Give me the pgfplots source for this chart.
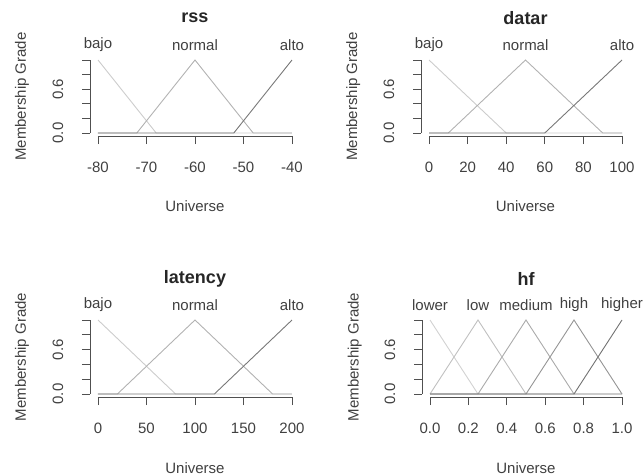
\documentclass[border=0pt]{standalone}
\usepackage{fontspec}
\setmainfont{Liberation Sans}
\usepackage{pgfplots}
\pgfplotsset{compat=1.18}
\definecolor{txt}{HTML}{404040}
\definecolor{axc}{HTML}{505050}
\definecolor{cA}{HTML}{CCCCCC}
\definecolor{cB}{HTML}{B2B2B2}
\definecolor{cC}{HTML}{787878}
\definecolor{hA}{HTML}{D2D2D2}
\definecolor{hB}{HTML}{C0C0C0}
\definecolor{hC}{HTML}{ABABAB}
\definecolor{hD}{HTML}{959595}
\definecolor{hE}{HTML}{727272}
\newcommand{\fs}{\fontsize{15}{18}\selectfont}
\pgfplotsset{
  rstyle/.style={
    scale only axis, clip=false,
    axis x line=bottom, axis y line=left,
    axis x line shift=3pt, axis y line shift=8pt,
    axis line style={-, color=axc, line width=0.8pt},
    tick style={color=axc, line width=0.8pt},
    tick align=outside, major tick length=8pt,
    ymin=0, ymax=1,
    ytick={0,0.2,0.4,0.6,0.8,1},
    yticklabels={0.0,{},{},0.6,{},{}},
    ticklabel style={font=\fs, text=txt},
    xticklabel style={anchor=center, yshift=-23pt},
    yticklabel style={xshift=-24pt, rotate=90, anchor=center},
    label style={font=\fs, text=txt},
    xlabel={Universe}, ylabel={Membership Grade},
    xlabel style={at={(axis description cs:0.5,-1.0)}, anchor=center},
    ylabel style={at={(axis description cs:-0.392,0.5)}, anchor=center},
    every axis plot/.append style={line width=0.9pt, mark=none},
  },
}
\tikzset{
  lab/.style={font=\fs, text=txt, anchor=center},
  ttl/.style={font=\fontsize{18}{21}\selectfont\bfseries, text=black!85, anchor=center},
}
\begin{document}
\begin{tikzpicture}
\useasboundingbox (0,0) rectangle (643pt,475pt);
% rss
\begin{axis}[rstyle, at={(98pt,342pt)}, anchor=south west, width=194pt, height=73pt,
  xmin=-80, xmax=-40, xtick={-80,-70,-60,-50,-40}, xticklabels={-80,-70,-60,-50,-40}]
\addplot[cA] coordinates {(-80,1) (-68,0) (-40,0)};
\addplot[cB] coordinates {(-80,0) (-72,0) (-60,1) (-48,0) (-40,0)};
\addplot[cC] coordinates {(-80,0) (-52,0) (-40,1)};
\node[lab] at (axis cs:-80,1.205) {bajo};
\node[lab] at (axis cs:-60,1.205) {normal};
\node[lab] at (axis cs:-40,1.205) {alto};
\node[ttl] at (axis description cs:0.5,1.575) {rss};
\end{axis}
% datar
\begin{axis}[rstyle, at={(429pt,342pt)}, anchor=south west, width=193pt, height=73pt,
  xmin=0, xmax=100, xtick={0,20,40,60,80,100}, xticklabels={0,20,40,60,80,100}]
\addplot[cA] coordinates {(0,1) (40,0) (100,0)};
\addplot[cB] coordinates {(0,0) (10,0) (50,1) (90,0) (100,0)};
\addplot[cC] coordinates {(0,0) (60,0) (100,1)};
\node[lab] at (axis cs:0,1.205) {bajo};
\node[lab] at (axis cs:50,1.205) {normal};
\node[lab] at (axis cs:100,1.205) {alto};
\node[ttl] at (axis description cs:0.5,1.575) {datar};
\end{axis}
% latency
\begin{axis}[rstyle, at={(98pt,81pt)}, anchor=south west, width=194pt, height=74pt,
  xmin=0, xmax=200, xtick={0,50,100,150,200}, xticklabels={0,50,100,150,200}]
\addplot[cA] coordinates {(0,1) (80,0) (200,0)};
\addplot[cB] coordinates {(0,0) (20,0) (100,1) (180,0) (200,0)};
\addplot[cC] coordinates {(0,0) (120,0) (200,1)};
\node[lab] at (axis cs:0,1.203) {bajo};
\node[lab] at (axis cs:100,1.203) {normal};
\node[lab] at (axis cs:200,1.203) {alto};
\node[ttl] at (axis description cs:0.5,1.56) {latency};
\end{axis}
% hf
\begin{axis}[rstyle, at={(430pt,81pt)}, anchor=south west, width=192pt, height=74pt,
  xmin=0, xmax=1, xtick={0,0.2,0.4,0.6,0.8,1}, xticklabels={0.0,0.2,0.4,0.6,0.8,1.0}]
\addplot[hA] coordinates {(0,1) (0.25,0) (1,0)};
\addplot[hB] coordinates {(0,0) (0.25,1) (0.5,0) (1,0)};
\addplot[hC] coordinates {(0,0) (0.25,0) (0.5,1) (0.75,0) (1,0)};
\addplot[hD] coordinates {(0,0) (0.5,0) (0.75,1) (1,0)};
\addplot[hE] coordinates {(0,0) (0.75,0) (1,1)};
\node[lab] at (axis cs:0,1.203) {lower};
\node[lab] at (axis cs:0.25,1.203) {low};
\node[lab] at (axis cs:0.5,1.203) {medium};
\node[lab] at (axis cs:0.75,1.203) {high};
\node[lab] at (axis cs:1,1.203) {higher};
\node[ttl] at (axis description cs:0.5,1.56) {hf};
\end{axis}
\end{tikzpicture}
\end{document}
